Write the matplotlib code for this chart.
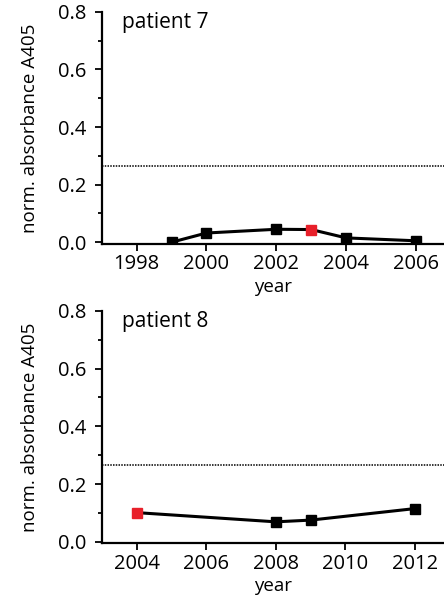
import matplotlib
matplotlib.use("Agg")
import matplotlib.pyplot as plt
from matplotlib.ticker import MultipleLocator

plt.rcParams['font.family'] = ['Open Sans', 'DejaVu Sans']

# patient 7
years7 = [1999, 2000, 2002, 2003, 2004, 2006]
vals7 = [0.000, 0.032, 0.045, 0.044, 0.015, 0.005]
red7 = [2003]

# patient 8
years8 = [2004, 2008, 2009, 2012]
vals8 = [0.101, 0.069, 0.075, 0.115]
red8 = [2004]

cutoff = 0.265
xticks7 = [1998, 2000, 2002, 2004, 2006]
xticks8 = [2004, 2006, 2008, 2010, 2012]

fig = plt.figure(figsize=(4.44, 5.95), dpi=100)
ax1 = fig.add_axes([0.229, 0.590, 0.771, 0.390])
ax2 = fig.add_axes([0.229, 0.0866, 0.771, 0.3908])


def draw(ax, years, vals, red, xticks, xlim, title):
    ax.plot(years, vals, color='black', lw=2.2, zorder=2)
    cols = ['#e8202a' if y in red else 'black' for y in years]
    for x, v, c in zip(years, vals, cols):
        ax.plot(x, v, marker='s', ms=7, color=c, mec=c, ls='none', zorder=3)
    ax.axhline(cutoff, color='black', lw=1.1, ls=(0, (1, 0.8)), zorder=1)
    ax.set_xlim(*xlim)
    ax.set_ylim(-0.006, 0.8)
    ax.set_xticks(xticks)
    ax.set_yticks([0.0, 0.2, 0.4, 0.6, 0.8])
    ax.set_yticklabels(['0.0', '0.2', '0.4', '0.6', '0.8'])
    ax.yaxis.set_minor_locator(MultipleLocator(0.1))
    ax.spines['top'].set_visible(False)
    ax.spines['right'].set_visible(False)
    ax.spines['left'].set_linewidth(1.6)
    ax.spines['bottom'].set_linewidth(1.6)
    ax.spines['left'].set_bounds(-0.006, 0.8)
    ax.tick_params(axis='y', which='major', direction='out', length=5, width=1.3,
                   pad=6, labelsize=14.5)
    ax.tick_params(axis='y', which='minor', direction='out', length=3, width=1.3)
    ax.tick_params(axis='x', which='major', direction='out', length=5, width=1.3,
                   pad=2.5, labelsize=14.5)
    ax.set_xlabel('year', fontsize=13.5, labelpad=2.5)
    ax.set_ylabel('norm. absorbance A405', fontsize=13.5, labelpad=14)
    ax.text(0.06, 1.0, title, transform=ax.transAxes, fontsize=15,
            ha='left', va='top')


draw(ax1, years7, vals7, red7, xticks7, (1997, 2006.8), 'patient 7')
draw(ax2, years8, vals8, red8, xticks8, (2003, 2012.83), 'patient 8')

fig.savefig('out.png', dpi=100)
